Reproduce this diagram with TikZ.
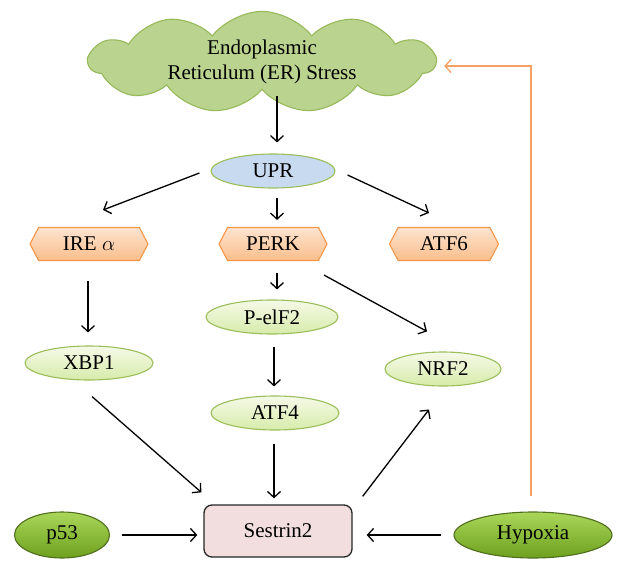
\documentclass[tikz,border=0pt]{standalone}
\usepackage{fontspec}
\setmainfont{Liberation Serif}
\usetikzlibrary{shapes.symbols,shapes.geometric,arrows.meta}
\definecolor{cloudfill}{RGB}{186,211,142}
\definecolor{cloudline}{RGB}{150,185,90}
\definecolor{upfill}{RGB}{200,218,240}
\definecolor{hexline}{RGB}{247,150,70}
\definecolor{hextop}{RGB}{253,228,208}
\definecolor{hexbot}{RGB}{250,190,140}
\definecolor{lgtop}{RGB}{245,250,232}
\definecolor{lgbot}{RGB}{215,235,170}
\definecolor{lgline}{RGB}{155,190,90}
\definecolor{dgtop}{RGB}{170,215,90}
\definecolor{dgbot}{RGB}{110,160,30}
\definecolor{dgline}{RGB}{80,110,30}
\definecolor{sesfill}{RGB}{242,222,222}
\definecolor{orarrow}{RGB}{245,160,100}
\tikzset{
  arr/.style={draw=black, line width=1.3pt, -{Straight Barb[length=6pt,width=13pt]}},
  oarr/.style={draw=orarrow, line width=1.3pt, -{Straight Barb[length=6pt,width=13pt]}},
  lbl/.style={font=\fontsize{21}{24}\selectfont},
  hexnode/.style={signal, signal to=east and west, signal pointer angle=125, draw=hexline, line width=1.1pt, top color=hextop, bottom color=hexbot, minimum height=33pt, lbl, inner sep=0pt},
  lgell/.style={ellipse, draw=lgline, line width=1.1pt, top color=lgtop, bottom color=lgbot, minimum width=128pt, minimum height=34pt, lbl, inner sep=0pt},
  dgell/.style={ellipse, draw=dgline, line width=1.1pt, top color=dgtop, bottom color=dgbot, lbl, inner sep=0pt},
}
\begin{document}
\begin{tikzpicture}[x=1pt,y=-1pt]
\useasboundingbox (0,0) rectangle (625,574);
\node[cloud, cloud puffs=11, cloud puff arc=105, aspect=4.0, draw=cloudline, line width=1.1pt, fill=cloudfill, minimum width=346pt, minimum height=90pt, align=center, font=\fontsize{21}{25}\selectfont, inner sep=0pt] (er) at (262,62) {Endoplasmic\\Reticulum (ER) Stress};
\node[ellipse, draw=lgline, line width=1.1pt, fill=upfill, minimum width=124pt, minimum height=34pt, inner sep=0pt, lbl] (upr) at (273,171) {UPR};
\node[hexnode, minimum width=118pt] (ire) at (89,244) {IRE $\alpha$};
\node[hexnode, minimum width=108pt] (perk) at (273,244) {PERK};
\node[hexnode, minimum width=109pt] (atf6) at (444,244) {ATF6};
\node[lgell, minimum width=132pt] (peif) at (272,317) {P-elF2};
\node[lgell] (xbp) at (89,363) {XBP1};
\node[lgell, minimum width=116pt] (nrf) at (443,369) {NRF2};
\node[lgell] (atf4) at (275,413) {ATF4};
\node[rectangle, rounded corners=8pt, draw=black!85, line width=1.3pt, fill=sesfill, minimum width=148pt, minimum height=52pt, lbl] (ses) at (278,531) {Sestrin2};
\node[dgell, minimum width=95pt, minimum height=46pt] (p53) at (62,535) {p53};
\node[dgell, minimum width=158pt, minimum height=46pt] (hyp) at (533,535) {Hypoxia};
\draw[arr] ([xshift=4pt]er.south -| upr.north) ++(0,6) -- ([shift={(4,-11)}]upr.north);
\draw[arr] ([shift={(-11,2)}]upr.west) -- ([shift={(14,-17)}]ire.north);
\draw[arr] ([shift={(4,9)}]upr.south) -- ([shift={(4,-7)}]perk.north);
\draw[arr] ([shift={(12,4)}]upr.east) -- ([shift={(-15,-14)}]atf6.north);
\draw[arr] ([shift={(-1,20)}]ire.south) -- ([shift={(-1,-13)}]xbp.north);
\draw[arr] ([shift={(4,12)}]perk.south) -- ([shift={(5,-10)}]peif.north);
\draw[arr] ([shift={(51,14)}]perk.south) -- ([shift={(-16,-20)}]nrf.north);
\draw[arr] ([shift={(2,12)}]peif.south) -- ([shift={(-1,-9)}]atf4.north);
\draw[arr] ([shift={(3,16)}]xbp.south) -- ([shift={(-2,-12)}]ses.north west);
\draw[arr] ([shift={(-1,13)}]atf4.south) -- ([shift={(-4,-6)}]ses.north);
\draw[arr] ([shift={(10,-8)}]ses.north east) -- ([shift={(-14,23)}]nrf.south);
\draw[arr] ([shift={(12,0)}]p53.east) -- ([shift={(-6,4)}]ses.west);
\draw[arr] ([shift={(-12,0)}]hyp.west) -- ([shift={(14,4)}]ses.east);
\draw[oarr] ([shift={(-2,-15)}]hyp.north) |- ([shift={(7,4)}]er.east);
\end{tikzpicture}
\end{document}
